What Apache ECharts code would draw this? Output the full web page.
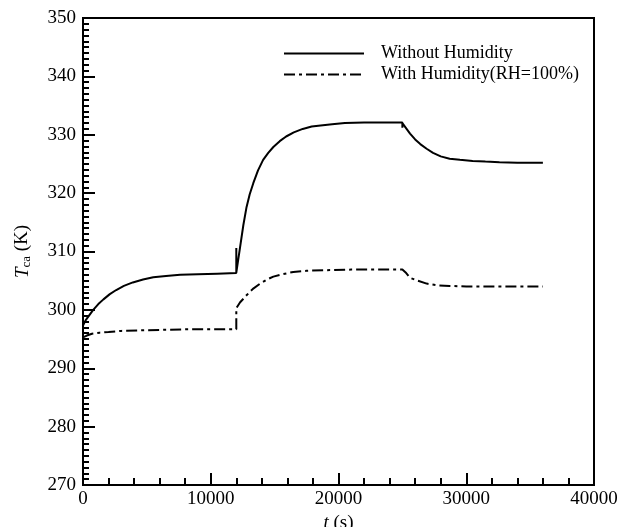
<!DOCTYPE html>
<html>
<head>
<meta charset="utf-8">
<script src="https://cdn.jsdelivr.net/npm/echarts@6/dist/echarts.min.js"></script>
<style>
html,body{margin:0;padding:0;background:#fff;}
#chart{width:621px;height:527px;}
</style>
</head>
<body>
<div id="chart"></div>
<script>
// Data
var seriesNames = ['Without Humidity', 'With Humidity(RH=100%)'];
var timeDry = [0, 200, 500, 800, 1200, 1600, 2100, 2600, 3200, 3900, 4700, 5500, 6500, 7600, 9000, 10500, 12000, 12000, 12000, 12150, 12300, 12550, 12800, 13050, 13330, 13700, 14100, 14500, 14900, 15400, 15900, 16500, 17200, 17900, 18600, 19500, 20500, 22000, 23500, 25000, 25000, 25000, 25300, 25600, 26000, 26400, 26900, 27400, 28000, 28700, 29500, 30500, 31500, 32600, 34000, 36000];
var tempDry = [297.3, 298.2, 299.1, 300.0, 301.0, 301.8, 302.7, 303.4, 304.1, 304.7, 305.2, 305.6, 305.8, 306.0, 306.1, 306.2, 306.3, 310.6, 306.4, 308.6, 310.8, 314.5, 317.6, 319.8, 321.7, 323.9, 325.7, 326.9, 327.9, 328.9, 329.7, 330.4, 331.0, 331.4, 331.6, 331.8, 332.0, 332.1, 332.1, 332.1, 331.2, 332.0, 331.1, 330.2, 329.2, 328.4, 327.6, 326.9, 326.3, 325.9, 325.7, 325.5, 325.4, 325.3, 325.2, 325.2];
var timeHumid = [0, 300, 700, 1300, 2000, 3000, 4500, 6500, 9000, 12000, 12000, 12300, 12800, 13300, 13860, 14400, 14900, 15600, 16460, 17500, 19000, 21000, 23000, 25000, 25300, 25600, 26200, 26900, 27800, 28700, 30000, 32500, 36000];
var tempHumid = [295.3, 295.6, 295.9, 296.1, 296.2, 296.4, 296.5, 296.6, 296.7, 296.7, 300.3, 301.3, 302.5, 303.6, 304.5, 305.2, 305.7, 306.1, 306.5, 306.7, 306.8, 306.9, 306.9, 306.9, 306.3, 305.5, 305.0, 304.5, 304.2, 304.1, 304.0, 304.0, 304.0];

function pairs(xs, ys) { return xs.map(function (x, i) { return [x, ys[i]]; }); }

var font = '"Liberation Serif", "DejaVu Serif", serif';
var chart = echarts.init(document.getElementById('chart'));
chart.setOption({
  animation: false,
  backgroundColor: '#fff',
  grid: { left: 83, right: 27, top: 18, bottom: 42, outerBoundsMode: 'none', containLabel: false,
    show: true, borderColor: '#000', borderWidth: 2 },
  legend: {
    orient: 'vertical', left: 278, top: 38,
    itemWidth: 80, itemHeight: 10, itemGap: 0,
    itemStyle: { opacity: 0 },
    textStyle: { fontFamily: font, fontSize: 18, lineHeight: 21, color: '#000', padding: [0, 0, 0, 12] },
    data: seriesNames
  },
  xAxis: {
    type: 'value', min: 0, max: 40000, interval: 10000,
    name: '{i|t} (s)', nameLocation: 'middle', nameGap: 23,
    nameTextStyle: { fontFamily: font, fontSize: 19, color: '#000',
      rich: { i: { fontFamily: font, fontSize: 19, fontStyle: 'italic', color: '#000' } } },
    axisLine: { lineStyle: { color: '#000', width: 2 } },
    axisTick: { inside: true, length: 12, lineStyle: { color: '#000', width: 2 } },
    minorTick: { show: true, splitNumber: 5, length: 7, lineStyle: { color: '#000', width: 2 } },
    splitLine: { show: false },
    axisLabel: { fontFamily: font, fontSize: 19, color: '#000', margin: 5,
      formatter: function (v) { return String(v); } }
  },
  yAxis: {
    type: 'value', min: 270, max: 350, interval: 10,
    name: '{i|T}{s|ca} (K)', nameLocation: 'middle', nameGap: 50,
    nameTextStyle: { fontFamily: font, fontSize: 19, color: '#000',
      rich: {
        i: { fontFamily: font, fontSize: 19, fontStyle: 'italic', color: '#000' },
        s: { fontFamily: font, fontSize: 13, color: '#000', padding: [8, 0, 0, 0] }
      } },
    axisLine: { lineStyle: { color: '#000', width: 2 } },
    axisTick: { inside: true, length: 12, lineStyle: { color: '#000', width: 2 } },
    minorTick: { show: true, splitNumber: 10, length: 6, lineStyle: { color: '#000', width: 2 } },
    splitLine: { show: false },
    axisLabel: { fontFamily: font, fontSize: 19, color: '#000', margin: 7 }
  },
  series: [
    {
      name: seriesNames[0], type: 'line', showSymbol: false, symbol: 'none',
      lineStyle: { color: '#000', width: 2 }, itemStyle: { color: '#000' },
      data: pairs(timeDry, tempDry)
    },
    {
      name: seriesNames[1], type: 'line', showSymbol: false, symbol: 'none',
      lineStyle: { color: '#000', width: 2, type: [11, 4, 3, 4] }, itemStyle: { color: '#000' },
      data: pairs(timeHumid, tempHumid)
    }
  ]
});
</script>
</body>
</html>
